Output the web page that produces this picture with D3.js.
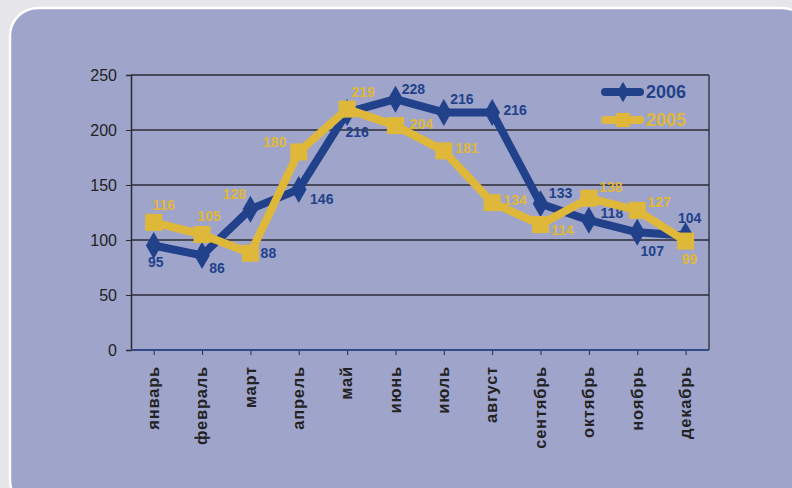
<!DOCTYPE html>
<html>
<head>
<meta charset="utf-8">
<script src="https://cdn.jsdelivr.net/npm/d3@7"></script>
<style>
  body { margin: 0; background: #e6e5ea; }
  svg { display: block; font-family: "Liberation Sans", Arial, sans-serif; }
</style>
</head>
<body>
<div id="chart"></div>
<script>
// months on the x axis
const months = ["январь", "февраль", "март", "апрель", "май", "июнь",
                "июль", "август", "сентябрь", "октябрь", "ноябрь", "декабрь"];
const values2006 = [95, 86, 128, 146, 216, 228, 216, 216, 133, 118, 107, 104];
const values2005 = [116, 105, 88, 180, 219, 204, 181, 134, 114, 138, 127, 99];
const yTicks = [0, 50, 100, 150, 200, 250];

const blue = "#21418a";
const yellow = "#dfb83a";

const width = 792, height = 488;
const plot = { left: 131, right: 709, top: 75, bottom: 350 };

const svg = d3.select("#chart").append("svg")
    .attr("width", width)
    .attr("height", height);

// rounded panel
svg.append("rect")
    .attr("x", 10).attr("y", 8)
    .attr("width", 800).attr("height", 500)
    .attr("rx", 28)
    .attr("fill", "#9fa4cb")
    .attr("stroke", "#ffffff")
    .attr("stroke-width", 2.5);

const x = d3.scalePoint()
    .domain(months)
    .range([153.7, 685.6]);

const y = d3.scaleLinear()
    .domain([0, 250])
    .range([plot.bottom, plot.top]);

// grid lines
svg.append("g")
  .selectAll("line")
  .data(yTicks.filter(d => d > 0))
  .enter().append("line")
    .attr("x1", plot.left).attr("x2", plot.right)
    .attr("y1", d => y(d)).attr("y2", d => y(d))
    .attr("stroke", "#2b2b33")
    .attr("stroke-width", 1.3);

// right border
svg.append("line")
    .attr("x1", plot.right).attr("x2", plot.right)
    .attr("y1", plot.top).attr("y2", plot.bottom)
    .attr("stroke", "#2b2b33").attr("stroke-width", 1.3);

// y axis
const yAxis = svg.append("g")
    .attr("transform", `translate(${plot.left},0)`)
    .call(d3.axisLeft(y).tickValues(yTicks).tickSize(5).tickPadding(9));
yAxis.select(".domain").attr("stroke", "#2b2b33").attr("stroke-width", 1.5);
yAxis.selectAll(".tick line").attr("stroke", "#2b2b33");
yAxis.selectAll("text")
    .attr("font-size", "16px")
    .attr("fill", "#222")
    .attr("font-family", "Liberation Sans, Arial, sans-serif");

// x axis
const xAxis = svg.append("g")
    .attr("transform", `translate(0,${plot.bottom})`)
    .call(d3.axisBottom(x).tickSize(5).tickSizeOuter(0));
xAxis.select(".domain").remove();
svg.append("line")
    .attr("x1", plot.left).attr("x2", plot.right)
    .attr("y1", plot.bottom).attr("y2", plot.bottom)
    .attr("stroke", "#2f4a84").attr("stroke-width", 2);
xAxis.selectAll(".tick line").attr("stroke", "#2b2b33");
xAxis.selectAll("text")
    .attr("transform", "rotate(-90)")
    .attr("text-anchor", "end")
    .attr("x", -16)
    .attr("y", -1)
    .attr("dy", "0.35em")
    .attr("font-size", "16.5px")
    .attr("font-weight", "bold")
    .attr("letter-spacing", "0.8px")
    .attr("fill", "#222")
    .attr("font-family", "Liberation Sans, Arial, sans-serif");

const line = d3.line()
    .x((d, i) => x(months[i]))
    .y(d => y(d));

// data label placement next to each point (dx, dy)
const labels2006 = [[2, 17], [15, 13], [-16, -15], [23, 10], [10, 20], [18, -10],
                    [18, -13], [23, -2], [20, -11], [23, -7], [15, 19], [4, -18]];
const labels2005 = [[10, -17], [7, -18], [18, 0], [-24, -10], [16, -17], [26, -2],
                    [23, -3], [23, -3], [22, 5], [22, -11], [22, -8], [4, 18]];

const diamond = d3.symbol().type(d3.symbolDiamond).size(210);
const square = d3.symbol().type(d3.symbolSquare).size(290);

function drawSeries(values, color, symbol, offsets, labelColor) {
  svg.append("path")
      .datum(values)
      .attr("d", line)
      .attr("fill", "none")
      .attr("stroke", color)
      .attr("stroke-width", 8)
      .attr("stroke-linejoin", "round");

  svg.append("g")
    .selectAll("path")
    .data(values)
    .enter().append("path")
      .attr("transform", (d, i) => `translate(${x(months[i])},${y(d)})`)
      .attr("d", symbol)
      .attr("fill", color);

  svg.append("g")
    .selectAll("text")
    .data(values)
    .enter().append("text")
      .attr("x", (d, i) => x(months[i]) + offsets[i][0])
      .attr("y", (d, i) => y(d) + offsets[i][1])
      .attr("dy", "0.35em")
      .attr("text-anchor", "middle")
      .attr("font-size", "14px")
      .attr("font-weight", "bold")
      .attr("fill", (d, i) => labelColor(i))
      .text(d => d);
}

// in the original the March labels swap colours
drawSeries(values2006, blue, diamond, labels2006, i => i === 2 ? yellow : blue);
drawSeries(values2005, yellow, square, labels2005, i => i === 2 ? blue : yellow);

// legend
const legend = svg.append("g").attr("transform", "translate(602, 92)");
const legendData = [
  { name: "2006", color: blue, symbol: d3.symbol().type(d3.symbolDiamond).size(120) },
  { name: "2005", color: yellow, symbol: d3.symbol().type(d3.symbolSquare).size(200) }
];
const rows = legend.selectAll("g")
    .data(legendData)
    .enter().append("g")
    .attr("transform", (d, i) => `translate(0, ${i * 28})`);
rows.append("line")
    .attr("x1", 3).attr("x2", 38)
    .attr("stroke", d => d.color)
    .attr("stroke-width", 8)
    .attr("stroke-linecap", "round");
rows.append("path")
    .attr("transform", "translate(21,0)")
    .attr("d", d => d.symbol())
    .attr("fill", d => d.color);
rows.append("text")
    .attr("x", 44)
    .attr("dy", "0.36em")
    .attr("font-size", "18px")
    .attr("font-weight", "bold")
    .attr("fill", d => d.color)
    .text(d => d.name);
</script>
</body>
</html>
